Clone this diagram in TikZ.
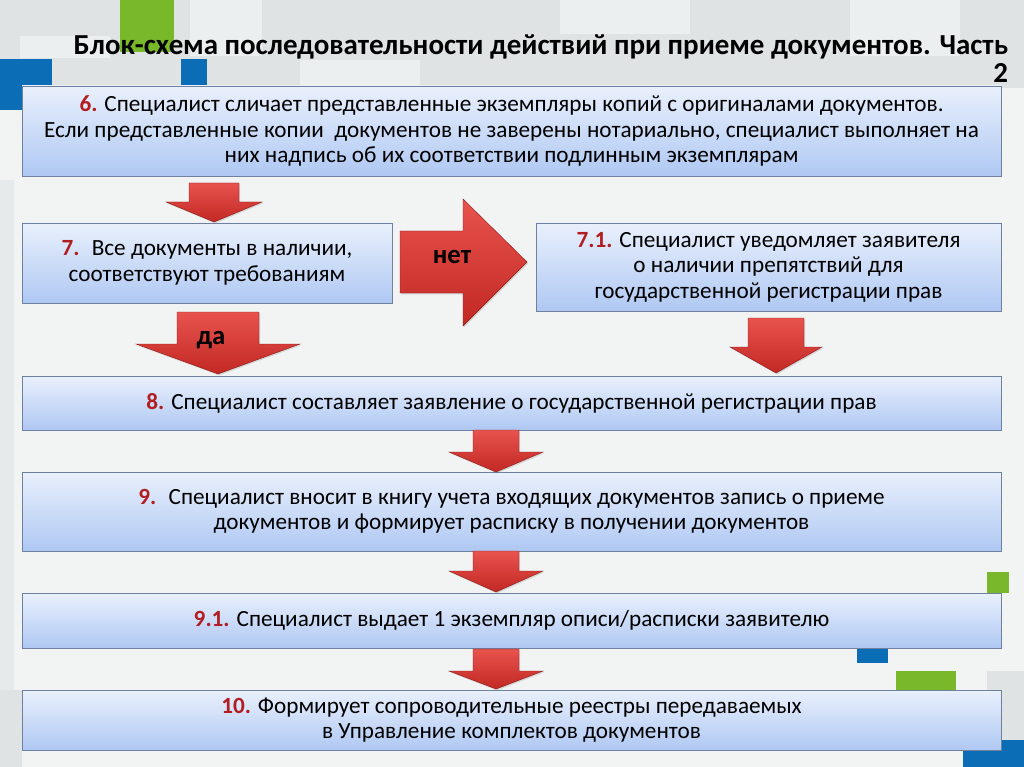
\documentclass[tikz,border=0pt]{standalone}
\usepackage{fontspec}
\setmainfont{Carlito}
\usetikzlibrary{shadows}

\definecolor{bgcol}{HTML}{F2F4F4}
\definecolor{bgtop}{HTML}{DFE3E3}
\definecolor{bglite}{HTML}{ECEFEF}
\definecolor{decoblue}{HTML}{0B6DB6}
\definecolor{decogreen}{HTML}{79B82A}
\definecolor{boxtop}{HTML}{E9F0FC}
\definecolor{boxbot}{HTML}{AFC8F3}
\definecolor{boxline}{HTML}{6F819E}
\definecolor{numred}{HTML}{B21D21}
\definecolor{arrtop}{HTML}{E8534E}
\definecolor{arrbot}{HTML}{C22824}
\definecolor{arredge}{HTML}{8E1C19}

\newlength\px
\setlength\px{0.025cm}
\newcommand\stepno[1]{\textbf{\color{numred}#1}}
\newcommand\boxfont{\fontsize{16.5}{18.1}\selectfont}
% block arrow pointing down: x, top, head start, tip, shaft half, head half
\newcommand\dnarrow[6]{%
  \path[arr] (#1-#5,#2) -- (#1+#5,#2) -- (#1+#5,#3) -- (#1+#6,#3)
    -- (#1,#4) -- (#1-#6,#3) -- (#1-#5,#3) -- cycle;}

\begin{document}
\begin{tikzpicture}[x=0.025cm, y=-0.025cm,
  box/.style = {draw=boxline, line width=0.7pt, top color=boxtop, bottom color=boxbot,
    inner sep=0pt, align=center, font=\boxfont,
    drop shadow={opacity=0.3, shadow xshift=0.8pt, shadow yshift=-1pt}},
  wide/.style = {minimum width=979\px},
  arr/.style = {draw=arredge, line width=0.3pt, top color=arrtop, bottom color=arrbot,
    drop shadow={opacity=0.25, shadow xshift=0.8pt, shadow yshift=-1pt}},
  lbl/.style = {font=\fontsize{19}{20}\selectfont\bfseries}
  ]
  \useasboundingbox (0,0) rectangle (1024,767);
  % background
  \fill[bgcol] (0,0) rectangle (1024,767);
  \fill[bgtop] (0,0) rectangle (1024,88);
  \fill[bglite] (20,36) rectangle (110,58);
  \fill[bglite] (190,0) rectangle (262,56);
  \fill[bglite] (560,0) rectangle (690,34);
  \fill[bglite] (850,0) rectangle (960,56);
  \fill[bglite] (300,60) rectangle (420,88);
  \fill[bglite!60!bgtop] (0,180) rectangle (14,767);
  \fill[bgtop] (0,690) rectangle (22,767);
  \fill[decogreen] (120,0) rectangle (174,52);
  \fill[decoblue] (0,59) rectangle (52,110);
  \fill[decoblue] (181,59) rectangle (207,92);
  \fill[decogreen] (987,572) rectangle (1009,593);
  \fill[decoblue] (857,645) rectangle (888,663);
  \fill[decogreen] (896,671) rectangle (956,692);
  \fill[bgtop] (987,671) rectangle (1024,742);
  \fill[decoblue] (963,740) rectangle (1024,767);

  \node (title) [anchor=north east, align=right,
    font=\fontsize{20.6}{20}\selectfont\bfseries] at (1013,30)
    {Блок-схема последовательности действий при приеме документов. Часть\\2};

  \node (b6) [box, wide, minimum height=90\px] at (511.5,131)
    {\stepno{6.} Специалист сличает представленные экземпляры копий с оригиналами документов.\\
    Если представленные копии \ документов не заверены нотариально, специалист выполняет на\\
    них надпись об их соответствии подлинным экземплярам};
  \node (b7) [box, minimum width=370\px, minimum height=80\px] at (207,263)
    {\stepno{7.} \ Все документы в наличии,\\
    соответствуют требованиям};
  \node (b71) [box, minimum width=465\px, minimum height=88\px] at (768.5,267)
    {\stepno{7.1.} Специалист уведомляет заявителя\\
    о наличии препятствий для\\
    государственной регистрации прав};
  \node (b8) [box, wide, minimum height=54\px] at (511.5,403)
    {\stepno{8.} Специалист составляет заявление о государственной регистрации прав};
  \node (b9) [box, wide, minimum height=79\px] at (511.5,511.5)
    {\stepno{9.} \ Специалист вносит в книгу учета входящих документов запись о приеме\\
    документов и формирует расписку в получении документов};
  \node (b91) [box, wide, minimum height=55\px] at (511.5,620.5)
    {\stepno{9.1.} Специалист выдает 1 экземпляр описи/расписки заявителю};
  \node (b10) [box, wide, minimum height=60\px] at (511.5,720)
    {\stepno{10.} Формирует сопроводительные реестры передаваемых\\
    в Управление комплектов документов};

  % arrows
  \dnarrow{214}{183}{202}{222}{25}{48}
  \dnarrow{218}{312}{344}{374}{41}{82}
  \dnarrow{776}{318}{347}{373}{28}{46}
  \dnarrow{496}{430}{452}{472}{23}{47}
  \dnarrow{496}{551}{571}{592}{23}{47}
  \dnarrow{496}{649}{671}{689}{23}{47}
  \path[arr] (400,231) -- (463,231) -- (463,199) -- (527,262) -- (463,326)
    -- (463,293) -- (400,293) -- cycle;
  \node (no) [lbl] at (452,257) {нет};
  \node (yes) [lbl] at (211,340) {да};
\end{tikzpicture}
\end{document}
